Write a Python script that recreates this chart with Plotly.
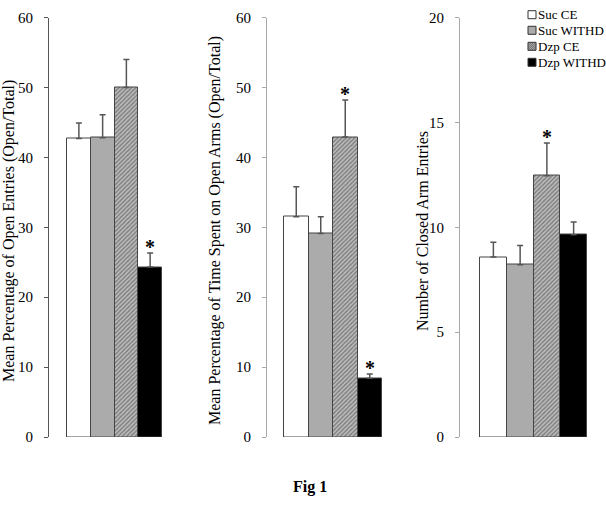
import plotly.graph_objects as go

W, H = 606, 514

categories = ["Suc CE", "Suc WITHD", "Dzp CE", "Dzp WITHD"]

open_entries = [42.7, 42.8, 50.0, 24.3]
open_entries_err = [2.2, 3.3, 4.0, 2.0]
open_entries_sig = [False, False, False, True]

time_open = [31.5, 29.1, 42.9, 8.4]
time_open_err = [4.3, 2.4, 5.3, 0.6]
time_open_sig = [False, False, True, True]

closed_entries = [8.58, 8.21, 12.46, 9.64]
closed_entries_err = [0.71, 0.92, 1.56, 0.61]
closed_entries_sig = [False, False, True, False]

panel_titles = [
    "Mean Percentage of Open Entries (Open/Total)",
    "Mean Percentage of Time Spent on Open Arms (Open/Total)",
    "Number of Closed Arm Entries",
]
y_ranges = [[0, 60], [0, 60], [0, 20]]
y_dticks = [10, 10, 5]

FONT = "Liberation Serif"
fills = ["#ffffff", "#ababab", "#bdbdbd", "#000000"]
patterns = ["", "", "/", ""]

panels = [
    (open_entries, open_entries_err, open_entries_sig),
    (time_open, time_open_err, time_open_sig),
    (closed_entries, closed_entries_err, closed_entries_sig),
]

# pixel layout
x_dom_px = [(49, 162), (267, 382), (460, 587)]
bars_left_px = [67, 284, 480]
y_top_px, y_bot_px = 17.5, 437
axis_line_colors = ["#555555", "#a8a8a8", "#a8a8a8"]
title_x_px = [9, 215, 423]


def fx(px):
    return px / W


def fy(py):
    return 1 - py / H


fig = go.Figure()

for p, (vals, errs, sigs) in enumerate(panels):
    xa = "x" if p == 0 else f"x{p+1}"
    ya = "y" if p == 0 else f"y{p+1}"
    for i, cat in enumerate(categories):
        fig.add_trace(go.Bar(
            x=[cat], y=[vals[i]],
            name=cat, showlegend=False,
            width=1,
            marker=dict(
                color=fills[i],
                line=dict(color="#444444", width=1),
                pattern=dict(shape=patterns[i], fgcolor="#3a3a3a",
                             bgcolor=fills[i], size=3, solidity=0.45),
            ),
            error_y=dict(type="data", array=[errs[i]], arrayminus=[0],
                         symmetric=False, color="#555555", thickness=1.5, width=3),
            xaxis=xa, yaxis=ya,
        ))
        if sigs[i]:
            fig.add_annotation(x=cat, y=vals[i] + errs[i], xref=xa, yref=ya,
                               text="<b>*</b>", showarrow=False, yanchor="bottom",
                               yshift=-7, font=dict(family=FONT, size=20, color="black"))

layout = dict(
    width=W, height=H,
    margin=dict(l=0, r=0, t=0, b=0, autoexpand=False),
    paper_bgcolor="white", plot_bgcolor="white",
    barmode="overlay", bargap=0,
    showlegend=False,
    font=dict(family=FONT, color="black"),
)

y_dom = [fy(y_bot_px), fy(y_top_px)]
for p in range(3):
    l, r = x_dom_px[p]
    unit = (r - bars_left_px[p]) / 4.0
    left = -0.5 - (bars_left_px[p] - l) / unit
    xkey = "xaxis" if p == 0 else f"xaxis{p+1}"
    ykey = "yaxis" if p == 0 else f"yaxis{p+1}"
    layout[xkey] = dict(domain=[fx(l), fx(r)], range=[left, 3.5], visible=False,
                        type="category", categoryorder="array", categoryarray=categories,
                        anchor="y" if p == 0 else f"y{p+1}")
    layout[ykey] = dict(domain=y_dom, range=y_ranges[p], dtick=y_dticks[p],
                        anchor="x" if p == 0 else f"x{p+1}",
                        showline=True, linecolor=axis_line_colors[p], linewidth=1,
                        ticks="outside", ticklen=4, tickcolor=axis_line_colors[p],
                        showgrid=False, zeroline=False, ticklabelstandoff=8,
                        tickfont=dict(family=FONT, size=15, color="black"))

fig.update_layout(**layout)

for p in range(3):
    fig.add_annotation(x=fx(title_x_px[p]), y=fy(231), xref="paper", yref="paper",
                       text=panel_titles[p], textangle=-90, showarrow=False,
                       xanchor="center", yanchor="middle",
                       font=dict(family=FONT, size=16, color="black"))

fig.add_annotation(x=fx(310), y=fy(487), xref="paper", yref="paper",
                   text="<b>Fig 1</b>", showarrow=False, xanchor="center", yanchor="middle",
                   font=dict(family=FONT, size=16, color="black"))

# legend (drawn manually to match the compact key of the original)
leg_x0, leg_size = 528, 8
leg_rows = [14.7, 30.3, 46.3, 62.3]
for i, cat in enumerate(categories):
    yc = leg_rows[i]
    y0, y1 = yc - leg_size / 2, yc + leg_size / 2
    x0, x1 = leg_x0, leg_x0 + leg_size
    fig.add_shape(type="rect", xref="paper", yref="paper",
                  x0=fx(x0), x1=fx(x1), y0=fy(y1), y1=fy(y0),
                  fillcolor=fills[i], line=dict(color="#333333", width=1))
    if patterns[i] == "/":
        segs = []
        s = 2.0
        while s < 2 * leg_size:
            ax, ay = x0 + max(0, s - leg_size), y0 + min(s, leg_size)
            bx, by = x0 + min(s, leg_size), y0 + max(0, s - leg_size)
            segs.append(f"M{fx(ax):.5f},{fy(ay):.5f} L{fx(bx):.5f},{fy(by):.5f}")
            s += 2.0
        fig.add_shape(type="path", xref="paper", yref="paper", path=" ".join(segs),
                      line=dict(color="#444444", width=0.8))
    fig.add_annotation(x=fx(x1 + 2), y=fy(yc), xref="paper", yref="paper",
                       text=cat, showarrow=False, xanchor="left", yanchor="middle",
                       xshift=-2, font=dict(family=FONT, size=13, color="black"))

fig.write_html("out.html")
